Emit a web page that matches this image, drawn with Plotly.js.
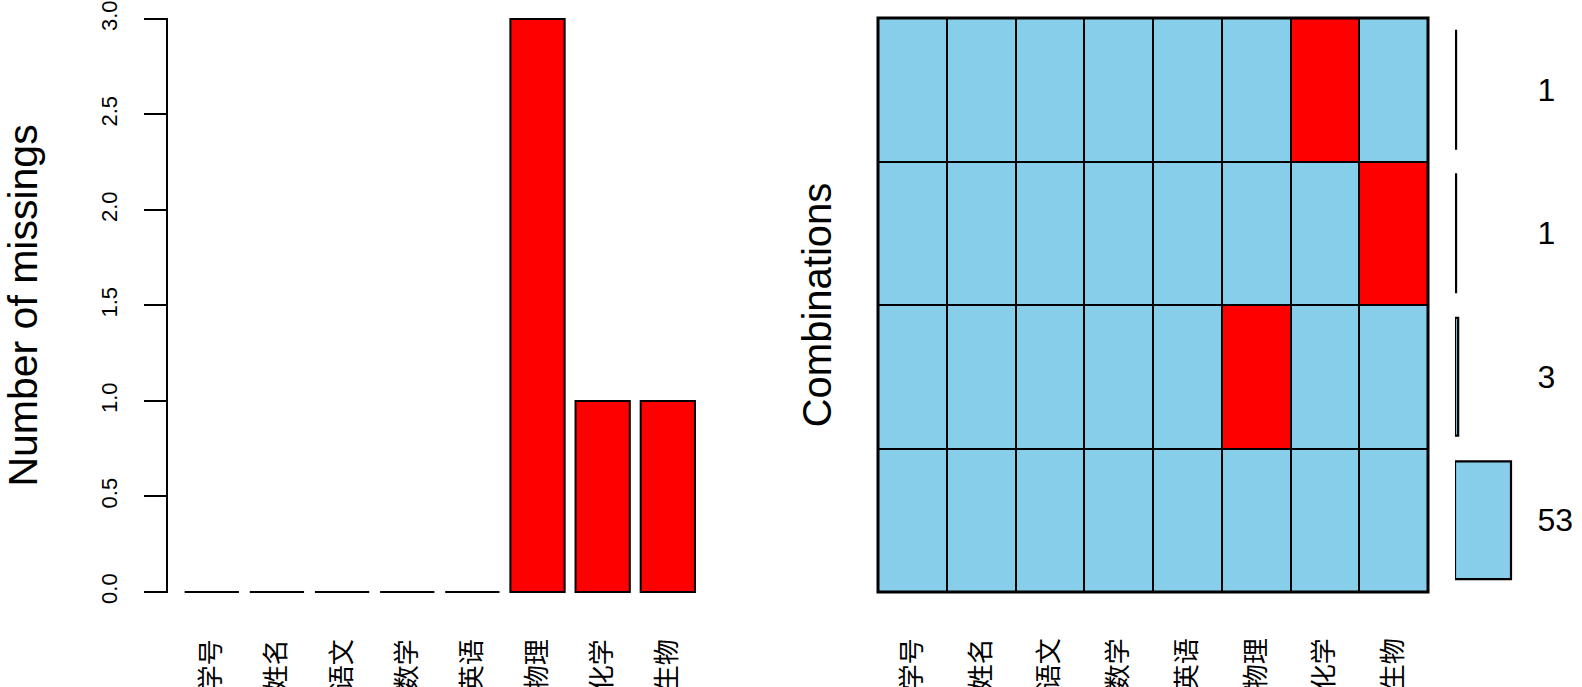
<!DOCTYPE html>
<html><head><meta charset="utf-8">
<script src="https://cdn.plot.ly/plotly-3.0.1.min.js"></script>
<style>html,body{margin:0;padding:0;background:#fff}#chart{width:1582px;height:687px}</style>
</head><body><div id="chart"></div>
<script>
// ---- data ----
const variables = ['学号','姓名','语文','数学','英语','物理','化学','生物'];
const missingCounts = [0,0,0,0,0,3,1,1];
// combination patterns, listed bottom to top (1 = missing)
const comboPatterns = [
  [0,0,0,0,0,0,0,0],
  [0,0,0,0,0,1,0,0],
  [0,0,0,0,0,0,0,1],
  [0,0,0,0,0,0,1,0]
];
const comboCounts = [53,3,1,1];
const comboRows = [0,1,2,3];
const yTicks = [0,0.5,1,1.5,2,2.5,3];

// ---- styling ----
const RED = '#FF0000', BLUE = '#87CEEB';
const LATIN = 'Liberation Sans, Arial, sans-serif';
const CJK = 'Noto Sans CJK SC, sans-serif';
const W = 1582, H = 687;
const fx = p => p / W;
const fy = p => (H - p) / H;

const traces = [
  {
    type: 'bar', x: variables, y: missingCounts, xaxis: 'x', yaxis: 'y',
    marker: {color: missingCounts.map(v => v > 0 ? RED : BLUE), line: {color: '#000', width: 2}},
    hoverinfo: 'x+y'
  },
  {
    type: 'heatmap', x: variables, y: comboRows, z: comboPatterns, xaxis: 'x2', yaxis: 'y2',
    colorscale: [[0, BLUE], [1, RED]], zmin: 0, zmax: 1, showscale: false,
    xgap: 2, ygap: 2, hoverinfo: 'skip'
  },
  {
    type: 'bar', orientation: 'h', x: comboCounts, y: comboRows, xaxis: 'x3', yaxis: 'y3',
    width: 0.82, base: 0,
    marker: {color: BLUE, line: {color: '#000', width: 2.2}},
    hoverinfo: 'x'
  }
];

const yDom = [fy(592), fy(18)];
const layout = {
  width: W, height: H,
  margin: {l: 0, r: 0, t: 0, b: 0},
  paper_bgcolor: '#fff', plot_bgcolor: '#fff',
  showlegend: false,
  bargap: 1 - 1/1.2,
  font: {family: LATIN, color: '#000'},
  xaxis: {
    domain: [fx(168), fx(706.9)], range: [-0.672, 7.6], anchor: 'y',
    showgrid: false, zeroline: false, showline: false, ticks: '',
    tickangle: -90, tickfont: {family: CJK, size: 26, color: '#000'},
    ticklabelstandoff: 40, fixedrange: true
  },
  yaxis: {
    domain: [fy(593.1), fy(17.85)], range: [-0.006, 3.006], anchor: 'x',
    showgrid: false, zeroline: false, showline: true, linecolor: '#000', linewidth: 2,
    ticks: 'outside', ticklen: 22, tickwidth: 2, tickcolor: '#000',
    tickvals: yTicks, ticktext: yTicks.map(v => v.toFixed(1)),
    tickangle: -90, tickfont: {size: 22, color: '#000'}, ticklabelstandoff: 18,
    title: {text: 'Number of missings', font: {size: 41, color: '#000'}, standoff: 47},
    fixedrange: true
  },
  xaxis2: {
    domain: [fx(878), fx(1428)], anchor: 'y2',
    showgrid: false, zeroline: false, showline: false, ticks: '',
    tickangle: -90, tickfont: {family: CJK, size: 26, color: '#000'},
    ticklabelstandoff: 40, fixedrange: true
  },
  yaxis2: {
    domain: yDom, range: [-0.5, 3.5], anchor: 'x2',
    showgrid: false, zeroline: false, showline: false, ticks: '', showticklabels: false,
    title: {text: 'Combinations', font: {size: 40, color: '#000'}, standoff: 33},
    fixedrange: true
  },
  xaxis3: {
    domain: [fx(1455), fx(1518.4)], range: [0, 60], anchor: 'y3',
    visible: false, fixedrange: true
  },
  yaxis3: {
    domain: yDom, range: [-0.5, 3.5], anchor: 'x3', side: 'right',
    showgrid: false, zeroline: false, showline: false, ticks: '',
    tickvals: comboRows, ticktext: comboCounts.map(String),
    tickfont: {size: 32, color: '#000'}, ticklabelstandoff: 18, fixedrange: true
  },
  shapes: [
    {type: 'rect', xref: 'x2 domain', yref: 'y2 domain', x0: 0, x1: 1, y0: 0, y1: 1,
     fillcolor: '#000', line: {width: 0}, layer: 'below'},
    {type: 'rect', xref: 'x2 domain', yref: 'y2 domain', x0: 0, x1: 1, y0: 0, y1: 1,
     fillcolor: 'rgba(0,0,0,0)', line: {color: '#000', width: 3}, layer: 'above'}
  ]
};

Plotly.newPlot('chart', traces, layout, {displayModeBar: false, staticPlot: true});
</script>
</body></html>
